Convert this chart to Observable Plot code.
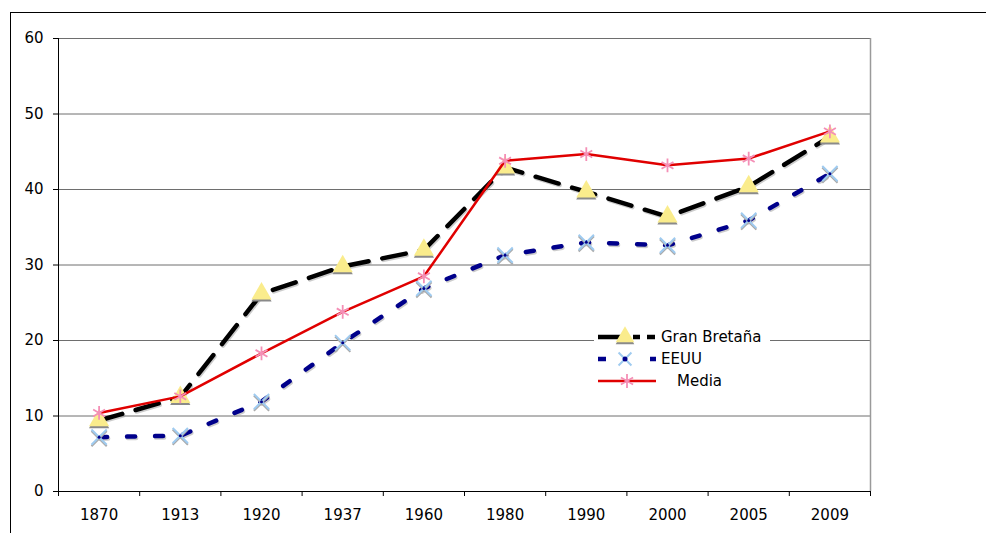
<!DOCTYPE html>
<html>
<head>
<meta charset="utf-8">
<script src="https://cdn.jsdelivr.net/npm/d3@7"></script>
<script src="https://cdn.jsdelivr.net/npm/@observablehq/plot@0.6"></script>
<style>
  html, body { margin: 0; padding: 0; background: #fff; }
  #wrap { position: relative; width: 986px; height: 533px; overflow: hidden; }
  #frame { position: absolute; left: 10px; top: 12px; width: 1100px; height: 700px; border: 1px solid #000; box-sizing: border-box; }
  #chart { position: absolute; left: 0; top: 0; }
</style>
</head>
<body>
<div id="wrap">
  <div id="frame"></div>
  <div id="chart"></div>
</div>
<script>
const years = ["1870", "1913", "1920", "1937", "1960", "1980", "1990", "2000", "2005", "2009"];
const granBretana = [9.4, 12.5, 26.2, 29.8, 32.0, 42.9, 39.7, 36.4, 40.4, 47.0];
const eeuu = [7.2, 7.4, 11.9, 19.7, 26.9, 31.3, 33.0, 32.6, 35.9, 42.1];
const media = [10.4, 12.6, 18.3, 23.8, 28.5, 43.8, 44.7, 43.2, 44.1, 47.7];
const yTicks = [0, 10, 20, 30, 40, 50, 60];
const seriesNames = ["Gran Bretaña", "EEUU", "Media"];

const rows = years.map((year, k) => ({
  i: k + 0.5, year, gb: granBretana[k], us: eeuu[k], me: media[k]
}));

const FONT = "'DejaVu Sans', Verdana, sans-serif";
const GB = { stroke: "#000", width: 4.5, dash: "24 14", fill: "#faec8c" };
const US = { stroke: "#00008b", width: 4.5, dash: "8 20", marker: "#9fcbf0" };
const ME = { stroke: "#e00000", width: 2.5, marker: "#f48fb6" };

const chart = Plot.plot({
  width: 986,
  height: 533,
  marginLeft: 58,
  marginRight: 116,
  marginTop: 38,
  marginBottom: 42,
  x: { domain: [0, 10], axis: null, label: null },
  y: { domain: [0, 60], axis: null, label: null },
  style: { fontFamily: FONT, fontSize: "15px", background: "transparent", color: "#000" },
  marks: [
    Plot.ruleY(yTicks.filter(d => d > 0), { stroke: "#6e6e6e", strokeWidth: 1, strokeOpacity: 1 }),
    Plot.ruleX([10], { stroke: "#9a9a9a", strokeWidth: 1.5 }),
    Plot.axisY({ ticks: yTicks, tickSize: 5, tickPadding: 10, tickFormat: d => String(d), fontSize: 15, label: null }),
    Plot.axisX({ ticks: d3.range(0, 11), tickSize: 5, tickFormat: () => "", label: null }),
    Plot.ruleX([0], { stroke: "#000", strokeWidth: 1 }),
    Plot.ruleY([0], { stroke: "#000", strokeWidth: 1 }),
    Plot.text(rows, { x: "i", y: () => 0, text: "year", dy: 24, fontSize: 15 }),

    // Gran Bretaña
    Plot.line(rows, { x: "i", y: "gb", stroke: "#999", strokeWidth: GB.width, strokeDasharray: GB.dash, dx: 1, dy: 1.5, strokeOpacity: 0.5 }),
    Plot.line(rows, { x: "i", y: "gb", stroke: GB.stroke, strokeWidth: GB.width, strokeDasharray: GB.dash }),
    Plot.dot(rows, { x: "i", y: "gb", symbol: "triangle", r: 7.5, fill: "#8a8a8a", stroke: "none", dy: 2 }),
    Plot.dot(rows, { x: "i", y: "gb", symbol: "triangle", r: 7.5, fill: GB.fill, stroke: "none" }),

    // EEUU
    Plot.line(rows, { x: "i", y: "us", stroke: "#999", strokeWidth: US.width, strokeDasharray: US.dash, dx: 1, dy: 1.5, strokeOpacity: 0.5 }),
    Plot.line(rows, { x: "i", y: "us", stroke: US.stroke, strokeWidth: US.width, strokeDasharray: US.dash }),
    Plot.dot(rows, { x: "i", y: "us", symbol: "times", r: 7, stroke: "#aaa", strokeWidth: 2, dy: 1.5 }),
    Plot.dot(rows, { x: "i", y: "us", symbol: "times", r: 7, stroke: US.marker, strokeWidth: 2 }),
    Plot.dot(rows, { x: "i", y: "us", r: 1.5, fill: US.stroke, stroke: "none" }),

    // Media
    Plot.line(rows, { x: "i", y: "me", stroke: ME.stroke, strokeWidth: ME.width }),
    Plot.dot(rows, { x: "i", y: "me", symbol: "asterisk", r: 6.5, stroke: ME.marker, strokeWidth: 1.8 })
  ]
});

document.getElementById("chart").appendChild(chart);

// Legend (overlaid on the plot area, white background)
const svg = d3.select(chart);
const lg = svg.append("g")
  .attr("font-family", FONT)
  .style("font-size", "15px")
  .attr("text-anchor", "start");
lg.append("rect").attr("x", 594).attr("y", 326).attr("width", 176).attr("height", 62).attr("fill", "#fff");
const rowY = [337, 359, 381];
// Gran Bretaña sample
lg.append("line").attr("x1", 598).attr("x2", 640).attr("y1", rowY[0]).attr("y2", rowY[0])
  .attr("stroke", GB.stroke).attr("stroke-width", GB.width).attr("stroke-dasharray", "24 11");
lg.append("path").attr("d", d3.symbol(d3.symbolTriangle, 150)()).attr("transform", `translate(625,${rowY[0] + 2})`).attr("fill", "#8a8a8a");
lg.append("path").attr("d", d3.symbol(d3.symbolTriangle, 150)()).attr("transform", `translate(625,${rowY[0]})`).attr("fill", GB.fill);
lg.append("line").attr("x1", 647).attr("x2", 655).attr("y1", rowY[0]).attr("y2", rowY[0])
  .attr("stroke", GB.stroke).attr("stroke-width", GB.width);
// EEUU sample
lg.append("line").attr("x1", 598).attr("x2", 606).attr("y1", rowY[1]).attr("y2", rowY[1])
  .attr("stroke", US.stroke).attr("stroke-width", US.width);
lg.append("line").attr("x1", 650).attr("x2", 656).attr("y1", rowY[1]).attr("y2", rowY[1])
  .attr("stroke", US.stroke).attr("stroke-width", US.width);
lg.append("path").attr("d", d3.symbol(d3.symbolTimes, 110)()).attr("transform", `translate(625,${rowY[1]})`)
  .attr("fill", "none").attr("stroke", US.marker).attr("stroke-width", 2);
lg.append("circle").attr("cx", 625).attr("cy", rowY[1]).attr("r", 2.5).attr("fill", US.stroke);
// Media sample
lg.append("line").attr("x1", 598).attr("x2", 656).attr("y1", rowY[2]).attr("y2", rowY[2])
  .attr("stroke", ME.stroke).attr("stroke-width", ME.width);
lg.append("path").attr("d", d3.symbol(d3.symbolAsterisk, 140)()).attr("transform", `translate(627,${rowY[2]})`)
  .attr("fill", "none").attr("stroke", ME.marker).attr("stroke-width", 1.8);
// Labels
lg.append("text").attr("x", 661).attr("y", rowY[0]).attr("dy", "0.35em").text(seriesNames[0]);
lg.append("text").attr("x", 661).attr("y", rowY[1]).attr("dy", "0.35em").text(seriesNames[1]);
lg.append("text").attr("x", 677).attr("y", rowY[2]).attr("dy", "0.35em").text(seriesNames[2]);
</script>
</body>
</html>
